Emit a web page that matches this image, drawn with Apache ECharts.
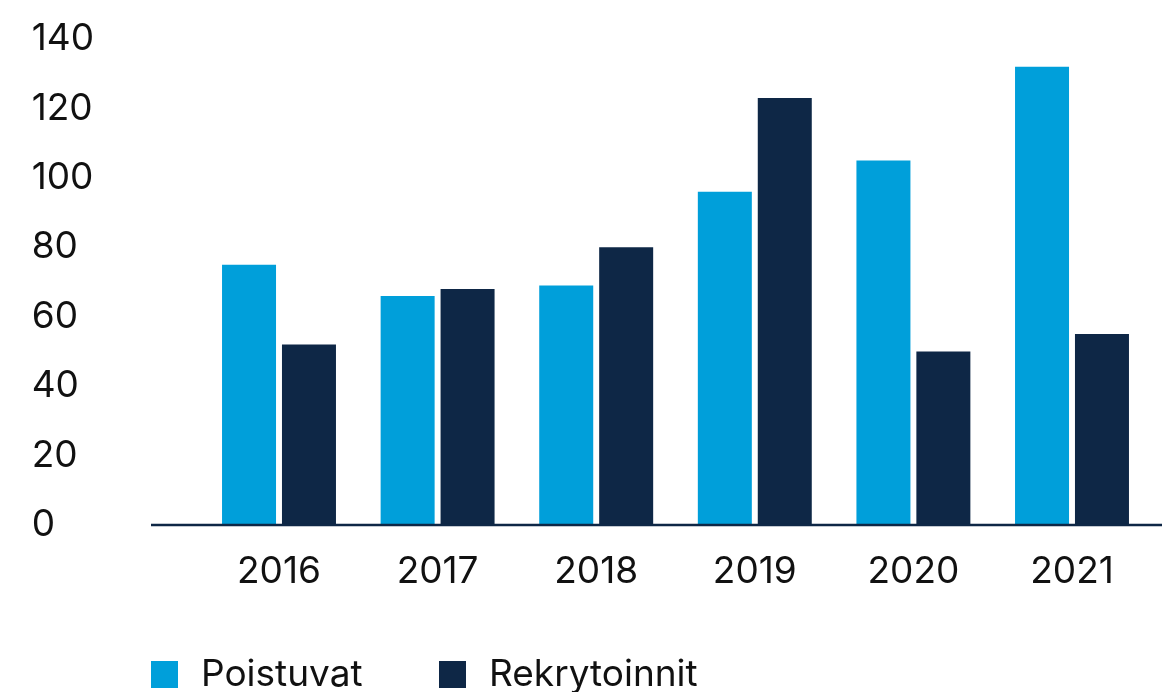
<!DOCTYPE html>
<html lang="fi">
<head>
    <meta charset="UTF-8">
    <title>Poistuvat ja rekrytoinnit</title>
    <script src="https://cdn.jsdelivr.net/npm/echarts@6/dist/echarts.min.js"></script>
    <style>
        *{
            margin: 0;
            padding: 0;
        }
        html,body{
            width: 100%;
            height: 100%;
            background: #fff;
        }
        .container{
            width: 1162px;
            height: 692px;
        }
    </style>
</head>
<body>
<div class="container"></div>
<script>
    let years = ['2016', '2017', '2018', '2019', '2020', '2021'];
    let poistuvat = [75, 66, 69, 96, 105, 132];
    let rekrytoinnit = [52, 68, 80, 123, 50, 55];
    let yTicks = [0, 20, 40, 60, 80, 100, 120, 140];

    let light = '#009fda';
    let navy = '#0e2746';
    let font = 'Inter';

    let container = document.querySelector('.container');
    let chart = echarts.init(container);

    let legendText = {
        fontFamily: font,
        fontSize: 37,
        color: '#111',
        padding: [0, 0, 0, 18]
    };

    let option = {
        animation: false,
        grid: {
            left: 199.7,
            right: 10.7,
            top: 39,
            bottom: 167
        },
        legend: [{
            data: ['Poistuvat'],
            left: 151,
            top: 656,
            padding: 0,
            itemWidth: 27,
            itemHeight: 27,
            icon: 'rect',
            textStyle: legendText
        }, {
            data: ['Rekrytoinnit'],
            left: 439,
            top: 656,
            padding: 0,
            itemWidth: 27,
            itemHeight: 27,
            icon: 'rect',
            textStyle: legendText
        }],
        xAxis: {
            type: 'category',
            data: years,
            axisLine: {show: false},
            axisTick: {show: false},
            axisLabel: {
                fontFamily: font,
                fontSize: 37,
                color: '#111',
                margin: 28
            }
        },
        yAxis: {
            type: 'value',
            min: yTicks[0],
            max: yTicks[yTicks.length - 1],
            interval: yTicks[1] - yTicks[0],
            splitLine: {show: false},
            axisLine: {show: false},
            axisTick: {show: false},
            axisLabel: {
                fontFamily: font,
                fontSize: 37,
                color: '#111',
                align: 'left',
                margin: 168
            }
        },
        series: [{
            name: 'Poistuvat',
            type: 'bar',
            data: poistuvat,
            barWidth: 54,
            barGap: '11%',
            itemStyle: {color: light}
        }, {
            name: 'Rekrytoinnit',
            type: 'bar',
            data: rekrytoinnit,
            barWidth: 54,
            barGap: '11%',
            itemStyle: {color: navy}
        }]
    };
    chart.setOption(option);

    // baseline runs wider than the category band
    let y0 = chart.convertToPixel({yAxisIndex: 0}, 0);
    chart.setOption({
        graphic: [{
            type: 'line',
            z: 10,
            shape: {x1: 151, y1: y0, x2: 1162, y2: y0},
            style: {stroke: navy, lineWidth: 2.5}
        }]
    });
</script>
</body>
</html>
